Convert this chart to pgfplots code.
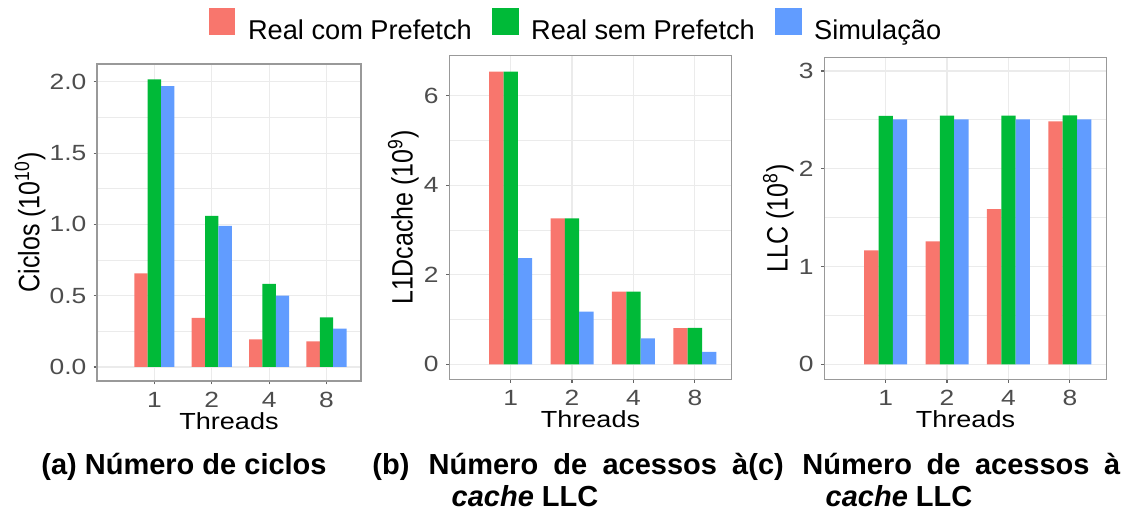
\documentclass[border=0pt]{standalone}
\usepackage{fontspec}
\setmainfont{Liberation Sans}
\newfontfamily\tickfont[FakeStretch=1.2]{Liberation Sans}
\newfontfamily\titlefont[FakeStretch=1.16]{Liberation Sans}
\usepackage{graphicx}
\usepackage{pgfplots}
\pgfplotsset{compat=1.18}

\definecolor{cred}{HTML}{F8766D}
\definecolor{cgreen}{HTML}{00BA38}
\definecolor{cblue}{HTML}{619CFF}
\definecolor{gridc}{HTML}{EBEBEB}
\definecolor{borderc}{HTML}{999999}
\definecolor{tickc}{HTML}{4D4D4D}

\pgfplotsset{
  sqlegend/.style={legend image code/.code={\fill[##1] (0pt,-1.7pt) rectangle (13.35pt,11.65pt);}},
  every axis y label/.style={at={(rel axis cs:0,0.5)}, rotate=90, anchor=base},
  myaxis/.style={
    scale only axis, anchor=south west,
    xmin=0, xmax=4.6,
    xtick={1,2,3,4}, xticklabels={1,2,4,8},
    ybar, bar width=0.2333,
    axis line style={borderc, line width=0.6pt},
    tick align=outside, tick pos=left,
    major tick length=1.65pt, minor tick length=0pt,
    tick style={black!60, line width=0.6pt},
    xmajorgrids, ymajorgrids, yminorgrids, minor y tick num=1,
    major grid style={gridc, line width=0.6pt},
    minor grid style={gridc, line width=0.35pt},
    ticklabel style={font=\tickfont\fontsize{11}{13}\selectfont, text=tickc},
    yticklabel style={anchor=east, inner sep=0pt, xshift=-3.5pt},
    xticklabel style={anchor=base, inner sep=0pt, yshift=-11.65pt},
    xlabel={Threads},
    xlabel style={font=\titlefont\fontsize{11.65}{14}\selectfont, at={([yshift=-24pt]rel axis cs:0.5,0)}, anchor=base, inner sep=0pt},
    ylabel style={font=\fontsize{12.5}{15}\selectfont, inner sep=0pt},
  }
}

\begin{document}
\begin{tikzpicture}
\path[use as bounding box] (0pt,0pt) rectangle (563pt,-257.5pt);

% Panel (a)
\begin{axis}[myaxis,
  at={(48.5pt,-190.5pt)}, width=132pt, height=158.5pt,
  ymin=-0.0985, ymax=2.125,
  ytick={0,0.5,1,1.5,2}, yticklabels={0.0,0.5,1.0,1.5,2.0},
  ylabel={\scalebox{1}[1.18]{Ciclos (10\textsuperscript{10})}},
  ylabel style={at={([xshift=-28.85pt]rel axis cs:0,0.5)}},
  legend columns=3,
  legend style={at={(axis description cs:1.8106,1.1215)}, anchor=center,
    draw=none, fill=none, font=\fontsize{13.6}{16}\selectfont,
    nodes={inner sep=0pt},
    /tikz/every odd column/.append style={column sep=6.3pt},
    /tikz/every even column/.append style={column sep=10pt}},
]
\addplot[fill=cred, draw=none, bar shift=-0.2333, sqlegend] coordinates {(1,0.657) (2,0.344) (3,0.194) (4,0.180)};
\addlegendentry{Real com Prefetch}
\addplot[fill=cgreen, draw=none, bar shift=0, sqlegend] coordinates {(1,2.017) (2,1.059) (3,0.582) (4,0.348)};
\addlegendentry{Real sem Prefetch}
\addplot[fill=cblue, draw=none, bar shift=0.2333, sqlegend] coordinates {(1,1.970) (2,0.989) (3,0.500) (4,0.269)};
\addlegendentry{Simulação}
\end{axis}

% Panel (b)
\begin{axis}[myaxis,
  at={(224.65pt,-189.65pt)}, width=141.2pt, height=161.8pt,
  ymin=-0.335, ymax=6.893,
  ytick={0,2,4,6}, yticklabels={0,2,4,6},
  ylabel={\scalebox{1}[1.18]{L1Dcache (10\textsuperscript{9})}},
  ylabel style={at={([xshift=-18.3pt]rel axis cs:0,0.5)}},
]
\addplot[fill=cred, draw=none, bar shift=-0.2333] coordinates {(1,6.536) (2,3.260) (3,1.622) (4,0.811)};
\addplot[fill=cgreen, draw=none, bar shift=0] coordinates {(1,6.540) (2,3.262) (3,1.624) (4,0.812)};
\addplot[fill=cblue, draw=none, bar shift=0.2333] coordinates {(1,2.374) (2,1.175) (3,0.580) (4,0.280)};
\end{axis}

% Panel (c)
\begin{axis}[myaxis,
  at={(412.15pt,-189.65pt)}, width=141.2pt, height=161pt,
  ymin=-0.153, ymax=3.139,
  ytick={0,1,2,3}, yticklabels={0,1,2,3},
  ylabel={\scalebox{1}[1.18]{LLC (10\textsuperscript{8})}},
  ylabel style={at={([xshift=-18.3pt]rel axis cs:0,0.5)}},
]
\addplot[fill=cred, draw=none, bar shift=-0.2333] coordinates {(1,1.166) (2,1.258) (3,1.588) (4,2.484)};
\addplot[fill=cgreen, draw=none, bar shift=0] coordinates {(1,2.539) (2,2.543) (3,2.543) (4,2.546)};
\addplot[fill=cblue, draw=none, bar shift=0.2333] coordinates {(1,2.505) (2,2.505) (3,2.505) (4,2.505)};
\end{axis}

% Captions
\begin{scope}[every node/.style={font=\bfseries\fontsize{14.5}{17}\selectfont, inner sep=0pt}]
\node[anchor=base] at (92pt,-237.15pt) {(a) Número de ciclos};
\node[anchor=base west] at (186pt,-237.15pt) {\makebox[188pt][s]{(b)\hspace{2pt} Número de acessos à}};
\node[anchor=base west] at (374pt,-237.15pt) {\makebox[186pt][s]{(c)\hspace{2pt} Número de acessos à}};
\node[anchor=base] at (262.5pt,-253.35pt) {\textit{cache} LLC};
\node[anchor=base] at (449.5pt,-253.35pt) {\textit{cache} LLC};
\end{scope}
\end{tikzpicture}
\end{document}
